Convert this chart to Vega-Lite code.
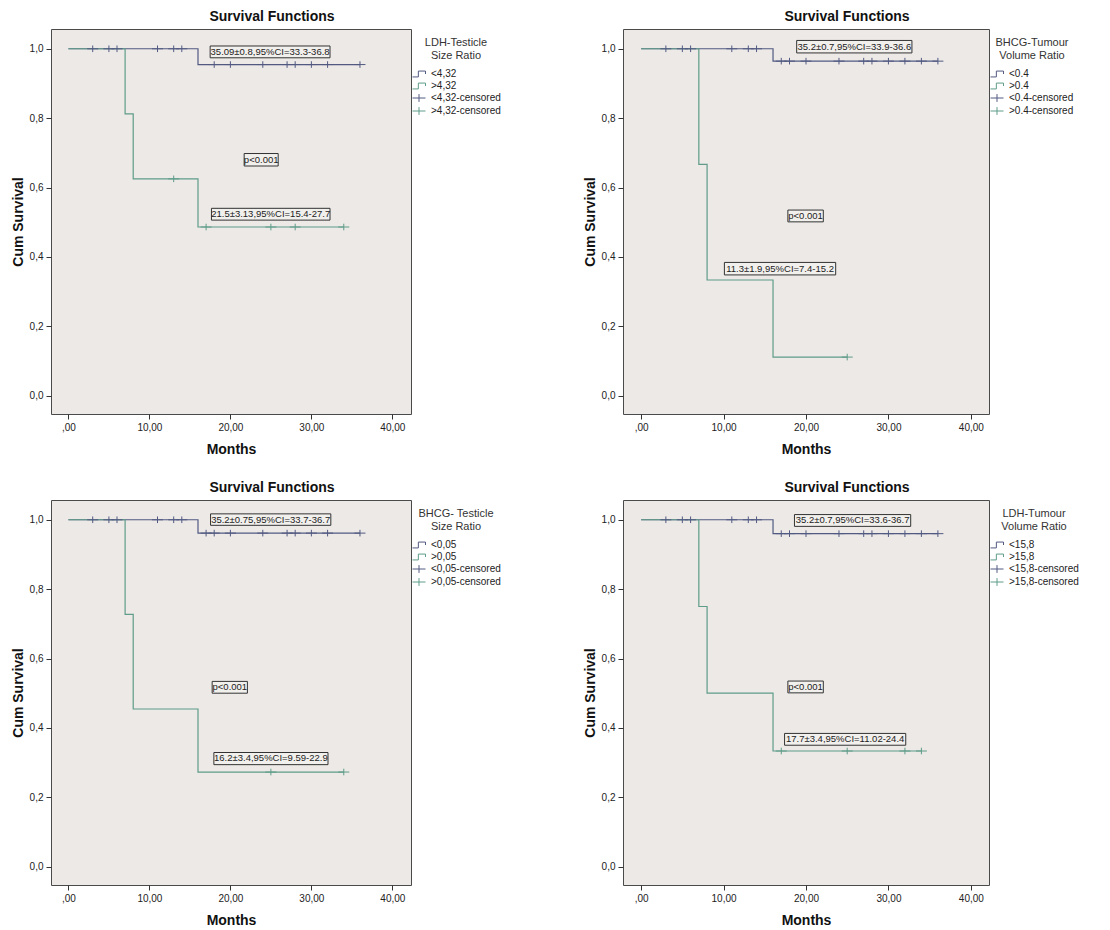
{
  "$schema": "https://vega.github.io/schema/vega-lite/v6.json",
  "background": "white",
  "padding": {"left": 10, "top": 9, "right": 5, "bottom": 5},
  "config": {
    "font": "Liberation Sans",
    "view": {"fill": "#ece9e6", "stroke": "#4a4a4a", "strokeWidth": 1},
    "axis": {"grid": false, "domain": false, "tickColor": "#333", "tickSize": 5, "labelFontSize": 10, "labelColor": "#222", "labelPadding": 3, "titleFontSize": 14, "titleFontWeight": "bold", "titleColor": "#111"},
    "axisX": {"tickCount": 5, "labelExpr": "datum.value == 0 ? ',00' : replace(format(datum.value, '.2f'), '.', ',')", "titlePadding": 10},
    "axisY": {"tickCount": 6, "labelExpr": "replace(format(datum.value, '.1f'), '.', ',')", "titlePadding": 4},
    "title": {"fontSize": 14, "fontWeight": "bold", "color": "#111", "anchor": "middle", "frame": "group", "dx": 41, "offset": 5},
    "legend": {"orient": "right", "offset": -7, "padding": 8, "titleFontSize": 11, "titleFontWeight": "normal", "titleColor": "#333", "titleAlign": "center", "titleAnchor": "middle", "labelFontSize": 10, "labelColor": "#222", "symbolSize": 169, "symbolStrokeWidth": 1, "rowPadding": 0, "titlePadding": 6, "labelOffset": 5, "titleLineHeight": 13}
  },
  "datasets": {
    "p1c": [
      {"month": 0, "surv": 1, "grp": "<4,32"}, {"month": 16, "surv": 0.9545, "grp": "<4,32"}, {"month": 36, "surv": 0.9545, "grp": "<4,32"},
      {"month": 0, "surv": 1, "grp": ">4,32"}, {"month": 7, "surv": 0.8125, "grp": ">4,32"}, {"month": 8, "surv": 0.625, "grp": ">4,32"}, {"month": 16, "surv": 0.4861, "grp": ">4,32"}, {"month": 34, "surv": 0.4861, "grp": ">4,32"}
    ],
    "p1s": [
      {"month": 3, "surv": 1, "grp": "<4,32-censored"}, {"month": 5, "surv": 1, "grp": "<4,32-censored"}, {"month": 6, "surv": 1, "grp": "<4,32-censored"}, {"month": 11, "surv": 1, "grp": "<4,32-censored"}, {"month": 13, "surv": 1, "grp": "<4,32-censored"}, {"month": 14, "surv": 1, "grp": "<4,32-censored"},
      {"month": 18, "surv": 0.9545, "grp": "<4,32-censored"}, {"month": 20, "surv": 0.9545, "grp": "<4,32-censored"}, {"month": 24, "surv": 0.9545, "grp": "<4,32-censored"}, {"month": 27, "surv": 0.9545, "grp": "<4,32-censored"}, {"month": 28, "surv": 0.9545, "grp": "<4,32-censored"}, {"month": 30, "surv": 0.9545, "grp": "<4,32-censored"}, {"month": 32, "surv": 0.9545, "grp": "<4,32-censored"}, {"month": 36, "surv": 0.9545, "grp": "<4,32-censored"},
      {"month": 13, "surv": 0.625, "grp": ">4,32-censored"}, {"month": 17, "surv": 0.4861, "grp": ">4,32-censored"}, {"month": 25, "surv": 0.4861, "grp": ">4,32-censored"}, {"month": 28, "surv": 0.4861, "grp": ">4,32-censored"}, {"month": 34, "surv": 0.4861, "grp": ">4,32-censored"}
    ],
    "p1n": [
      {"label": "35.09±0.8,95%CI=33.3-36.8", "month": 17.5, "month2": 32.3, "surv": 1.008, "surv2": 0.974, "cx": 24.9, "cy": 0.991},
      {"label": "p<0.001", "month": 21.7, "month2": 25.9, "surv": 0.698, "surv2": 0.662, "cx": 23.8, "cy": 0.68},
      {"label": "21.5±3.13,95%CI=15.4-27.7", "month": 17.66, "month2": 32.3, "surv": 0.54, "surv2": 0.506, "cx": 24.98, "cy": 0.523}
    ],
    "p2c": [
      {"month": 0, "surv": 1, "grp": "<0.4"}, {"month": 16, "surv": 0.9643, "grp": "<0.4"}, {"month": 36, "surv": 0.9643, "grp": "<0.4"},
      {"month": 0, "surv": 1, "grp": ">0.4"}, {"month": 7, "surv": 0.6667, "grp": ">0.4"}, {"month": 8, "surv": 0.3333, "grp": ">0.4"}, {"month": 16, "surv": 0.1111, "grp": ">0.4"}, {"month": 25, "surv": 0.1111, "grp": ">0.4"}
    ],
    "p2s": [
      {"month": 3, "surv": 1, "grp": "<0.4-censored"}, {"month": 5, "surv": 1, "grp": "<0.4-censored"}, {"month": 6, "surv": 1, "grp": "<0.4-censored"}, {"month": 11, "surv": 1, "grp": "<0.4-censored"}, {"month": 13, "surv": 1, "grp": "<0.4-censored"}, {"month": 14, "surv": 1, "grp": "<0.4-censored"},
      {"month": 17, "surv": 0.9643, "grp": "<0.4-censored"}, {"month": 18, "surv": 0.9643, "grp": "<0.4-censored"}, {"month": 20, "surv": 0.9643, "grp": "<0.4-censored"}, {"month": 24, "surv": 0.9643, "grp": "<0.4-censored"}, {"month": 27, "surv": 0.9643, "grp": "<0.4-censored"}, {"month": 28, "surv": 0.9643, "grp": "<0.4-censored"}, {"month": 30, "surv": 0.9643, "grp": "<0.4-censored"}, {"month": 32, "surv": 0.9643, "grp": "<0.4-censored"}, {"month": 34, "surv": 0.9643, "grp": "<0.4-censored"}, {"month": 36, "surv": 0.9643, "grp": "<0.4-censored"},
      {"month": 25, "surv": 0.1111, "grp": ">0.4-censored"}
    ],
    "p2n": [
      {"label": "35.2±0.7,95%CI=33.9-36.6", "month": 18.87, "month2": 32.85, "surv": 1.024, "surv2": 0.988, "cx": 25.86, "cy": 1.006},
      {"label": "p<0.001", "month": 17.8, "month2": 22.1, "surv": 0.535, "surv2": 0.501, "cx": 19.95, "cy": 0.518},
      {"label": "11.3±1.9,95%CI=7.4-15.2", "month": 10.1, "month2": 23.6, "surv": 0.384, "surv2": 0.348, "cx": 16.85, "cy": 0.366}
    ],
    "p3c": [
      {"month": 0, "surv": 1, "grp": "<0,05"}, {"month": 16, "surv": 0.9615, "grp": "<0,05"}, {"month": 36, "surv": 0.9615, "grp": "<0,05"},
      {"month": 0, "surv": 1, "grp": ">0,05"}, {"month": 7, "surv": 0.7273, "grp": ">0,05"}, {"month": 8, "surv": 0.4545, "grp": ">0,05"}, {"month": 16, "surv": 0.2727, "grp": ">0,05"}, {"month": 34, "surv": 0.2727, "grp": ">0,05"}
    ],
    "p3s": [
      {"month": 3, "surv": 1, "grp": "<0,05-censored"}, {"month": 5, "surv": 1, "grp": "<0,05-censored"}, {"month": 6, "surv": 1, "grp": "<0,05-censored"}, {"month": 11, "surv": 1, "grp": "<0,05-censored"}, {"month": 13, "surv": 1, "grp": "<0,05-censored"}, {"month": 14, "surv": 1, "grp": "<0,05-censored"},
      {"month": 17, "surv": 0.9615, "grp": "<0,05-censored"}, {"month": 18, "surv": 0.9615, "grp": "<0,05-censored"}, {"month": 20, "surv": 0.9615, "grp": "<0,05-censored"}, {"month": 24, "surv": 0.9615, "grp": "<0,05-censored"}, {"month": 27, "surv": 0.9615, "grp": "<0,05-censored"}, {"month": 28, "surv": 0.9615, "grp": "<0,05-censored"}, {"month": 30, "surv": 0.9615, "grp": "<0,05-censored"}, {"month": 32, "surv": 0.9615, "grp": "<0,05-censored"}, {"month": 36, "surv": 0.9615, "grp": "<0,05-censored"},
      {"month": 25, "surv": 0.2727, "grp": ">0,05-censored"}, {"month": 34, "surv": 0.2727, "grp": ">0,05-censored"}
    ],
    "p3n": [
      {"label": "35.2±0.75,95%CI=33.7-36.7", "month": 17.55, "month2": 32.4, "surv": 1.017, "surv2": 0.984, "cx": 24.97, "cy": 1.0},
      {"label": "p<0.001", "month": 17.75, "month2": 22.1, "surv": 0.534, "surv2": 0.5, "cx": 19.93, "cy": 0.517},
      {"label": "16.2±3.4,95%CI=9.59-22.9", "month": 17.96, "month2": 32.05, "surv": 0.329, "surv2": 0.294, "cx": 25.0, "cy": 0.312}
    ],
    "p4c": [
      {"month": 0, "surv": 1, "grp": "<15,8"}, {"month": 16, "surv": 0.96, "grp": "<15,8"}, {"month": 36, "surv": 0.96, "grp": "<15,8"},
      {"month": 0, "surv": 1, "grp": ">15,8"}, {"month": 7, "surv": 0.75, "grp": ">15,8"}, {"month": 8, "surv": 0.5, "grp": ">15,8"}, {"month": 16, "surv": 0.3333, "grp": ">15,8"}, {"month": 34, "surv": 0.3333, "grp": ">15,8"}
    ],
    "p4s": [
      {"month": 3, "surv": 1, "grp": "<15,8-censored"}, {"month": 5, "surv": 1, "grp": "<15,8-censored"}, {"month": 6, "surv": 1, "grp": "<15,8-censored"}, {"month": 11, "surv": 1, "grp": "<15,8-censored"}, {"month": 13, "surv": 1, "grp": "<15,8-censored"}, {"month": 14, "surv": 1, "grp": "<15,8-censored"},
      {"month": 17, "surv": 0.96, "grp": "<15,8-censored"}, {"month": 18, "surv": 0.96, "grp": "<15,8-censored"}, {"month": 20, "surv": 0.96, "grp": "<15,8-censored"}, {"month": 24, "surv": 0.96, "grp": "<15,8-censored"}, {"month": 27, "surv": 0.96, "grp": "<15,8-censored"}, {"month": 28, "surv": 0.96, "grp": "<15,8-censored"}, {"month": 30, "surv": 0.96, "grp": "<15,8-censored"}, {"month": 32, "surv": 0.96, "grp": "<15,8-censored"}, {"month": 34, "surv": 0.96, "grp": "<15,8-censored"}, {"month": 36, "surv": 0.96, "grp": "<15,8-censored"},
      {"month": 17, "surv": 0.3333, "grp": ">15,8-censored"}, {"month": 25, "surv": 0.3333, "grp": ">15,8-censored"}, {"month": 32, "surv": 0.3333, "grp": ">15,8-censored"}, {"month": 34, "surv": 0.3333, "grp": ">15,8-censored"}
    ],
    "p4n": [
      {"label": "35.2±0.7,95%CI=33.6-36.7", "month": 18.6, "month2": 32.7, "surv": 1.015, "surv2": 0.981, "cx": 25.65, "cy": 0.998},
      {"label": "p<0.001", "month": 17.8, "month2": 22.1, "surv": 0.535, "surv2": 0.501, "cx": 19.95, "cy": 0.518},
      {"label": "17.7±3.4,95%CI=11.02-24.4", "month": 17.4, "month2": 32.1, "surv": 0.384, "surv2": 0.35, "cx": 24.75, "cy": 0.367}
    ]
  },
  "spacing": 23,
  "resolve": {"scale": {"color": "independent", "shape": "independent"}, "legend": {"color": "independent", "shape": "independent"}},
  "vconcat": [
    {
      "spacing": 72,
      "resolve": {"scale": {"color": "independent", "shape": "independent"}, "legend": {"color": "independent", "shape": "independent"}},
      "hconcat": [
        {
          "width": 360, "height": 385,
          "title": "Survival Functions",
          "layer": [
            {"data": {"name": "p1c"}, "transform": [{"filter": {"field": "grp", "equal": "<4,32"}}], "mark": {"type": "line", "interpolate": "step-after", "strokeWidth": 1.2},
             "encoding": {
               "x": {"field": "month", "type": "quantitative", "title": "Months", "scale": {"domain": [-2.15, 42.3], "nice": false, "zero": false}},
               "y": {"field": "surv", "type": "quantitative", "title": "Cum Survival", "scale": {"domain": [-0.053, 1.057], "nice": false, "zero": false}},
               "color": {"field": "grp", "type": "nominal", "scale": {"domain": ["<4,32", ">4,32", "<4,32-censored", ">4,32-censored"], "range": ["#525a82", "#5f9c89", "#525a82", "#5f9c89"]}, "legend": {"title": ["LDH-Testicle", "Size Ratio"]}}}},
            {"data": {"name": "p1c"}, "transform": [{"filter": {"field": "grp", "equal": ">4,32"}}], "mark": {"type": "line", "interpolate": "step-after", "strokeWidth": 1.2},
             "encoding": {
               "x": {"field": "month", "type": "quantitative", "title": "Months"},
               "y": {"field": "surv", "type": "quantitative", "title": "Cum Survival"},
               "color": {"field": "grp", "type": "nominal", "legend": {"title": ["LDH-Testicle", "Size Ratio"]}}}},
            {"data": {"name": "p1s"}, "mark": {"type": "point", "filled": false, "size": 121, "strokeWidth": 1, "opacity": 1},
             "encoding": {
               "x": {"field": "month", "type": "quantitative", "title": "Months"},
               "y": {"field": "surv", "type": "quantitative", "title": "Cum Survival"},
               "color": {"field": "grp", "type": "nominal", "legend": {"title": ["LDH-Testicle", "Size Ratio"]}},
               "shape": {"field": "grp", "type": "nominal", "scale": {"domain": ["<4,32", ">4,32", "<4,32-censored", ">4,32-censored"], "range": ["M-1,0.45L-0.1,0.45L-0.1,-0.45L1,-0.45L1,0", "M-1,0.45L-0.1,0.45L-0.1,-0.45L1,-0.45L1,0", "M-1,0L1,0M0,-0.6L0,0.6", "M-1,0L1,0M0,-0.6L0,0.6"]}, "legend": {"title": ["LDH-Testicle", "Size Ratio"]}}}},
            {"data": {"name": "p1n"}, "mark": {"type": "rect", "fill": "#f2f0ed", "stroke": "#333", "strokeWidth": 1},
             "encoding": {
               "x": {"field": "month", "type": "quantitative", "title": "Months"}, "x2": {"field": "month2"},
               "y": {"field": "surv", "type": "quantitative", "title": "Cum Survival"}, "y2": {"field": "surv2"}}},
            {"data": {"name": "p1n"}, "mark": {"type": "text", "fontSize": 9.5, "color": "#222", "align": "center", "baseline": "middle"},
             "encoding": {
               "x": {"field": "cx", "type": "quantitative", "title": "Months"},
               "y": {"field": "cy", "type": "quantitative", "title": "Cum Survival"},
               "text": {"field": "label"}}}
          ]
        },
        {
          "width": 366, "height": 385,
          "title": "Survival Functions",
          "layer": [
            {"data": {"name": "p2c"}, "transform": [{"filter": {"field": "grp", "equal": "<0.4"}}], "mark": {"type": "line", "interpolate": "step-after", "strokeWidth": 1.2},
             "encoding": {
               "x": {"field": "month", "type": "quantitative", "title": "Months", "scale": {"domain": [-2.2, 42.2], "nice": false, "zero": false}},
               "y": {"field": "surv", "type": "quantitative", "title": "Cum Survival", "scale": {"domain": [-0.053, 1.057], "nice": false, "zero": false}},
               "color": {"field": "grp", "type": "nominal", "scale": {"domain": ["<0.4", ">0.4", "<0.4-censored", ">0.4-censored"], "range": ["#525a82", "#5f9c89", "#525a82", "#5f9c89"]}, "legend": {"title": ["BHCG-Tumour", "Volume Ratio"]}}}},
            {"data": {"name": "p2c"}, "transform": [{"filter": {"field": "grp", "equal": ">0.4"}}], "mark": {"type": "line", "interpolate": "step-after", "strokeWidth": 1.2},
             "encoding": {
               "x": {"field": "month", "type": "quantitative", "title": "Months"},
               "y": {"field": "surv", "type": "quantitative", "title": "Cum Survival"},
               "color": {"field": "grp", "type": "nominal", "legend": {"title": ["BHCG-Tumour", "Volume Ratio"]}}}},
            {"data": {"name": "p2s"}, "mark": {"type": "point", "filled": false, "size": 121, "strokeWidth": 1, "opacity": 1},
             "encoding": {
               "x": {"field": "month", "type": "quantitative", "title": "Months"},
               "y": {"field": "surv", "type": "quantitative", "title": "Cum Survival"},
               "color": {"field": "grp", "type": "nominal", "legend": {"title": ["BHCG-Tumour", "Volume Ratio"]}},
               "shape": {"field": "grp", "type": "nominal", "scale": {"domain": ["<0.4", ">0.4", "<0.4-censored", ">0.4-censored"], "range": ["M-1,0.45L-0.1,0.45L-0.1,-0.45L1,-0.45L1,0", "M-1,0.45L-0.1,0.45L-0.1,-0.45L1,-0.45L1,0", "M-1,0L1,0M0,-0.6L0,0.6", "M-1,0L1,0M0,-0.6L0,0.6"]}, "legend": {"title": ["BHCG-Tumour", "Volume Ratio"]}}}},
            {"data": {"name": "p2n"}, "mark": {"type": "rect", "fill": "#f2f0ed", "stroke": "#333", "strokeWidth": 1},
             "encoding": {
               "x": {"field": "month", "type": "quantitative", "title": "Months"}, "x2": {"field": "month2"},
               "y": {"field": "surv", "type": "quantitative", "title": "Cum Survival"}, "y2": {"field": "surv2"}}},
            {"data": {"name": "p2n"}, "mark": {"type": "text", "fontSize": 9.5, "color": "#222", "align": "center", "baseline": "middle"},
             "encoding": {
               "x": {"field": "cx", "type": "quantitative", "title": "Months"},
               "y": {"field": "cy", "type": "quantitative", "title": "Cum Survival"},
               "text": {"field": "label"}}}
          ]
        }
      ]
    },
    {
      "spacing": 72,
      "resolve": {"scale": {"color": "independent", "shape": "independent"}, "legend": {"color": "independent", "shape": "independent"}},
      "hconcat": [
        {
          "width": 360, "height": 385,
          "title": "Survival Functions",
          "layer": [
            {"data": {"name": "p3c"}, "transform": [{"filter": {"field": "grp", "equal": "<0,05"}}], "mark": {"type": "line", "interpolate": "step-after", "strokeWidth": 1.2},
             "encoding": {
               "x": {"field": "month", "type": "quantitative", "title": "Months", "scale": {"domain": [-2.15, 42.3], "nice": false, "zero": false}},
               "y": {"field": "surv", "type": "quantitative", "title": "Cum Survival", "scale": {"domain": [-0.053, 1.057], "nice": false, "zero": false}},
               "color": {"field": "grp", "type": "nominal", "scale": {"domain": ["<0,05", ">0,05", "<0,05-censored", ">0,05-censored"], "range": ["#525a82", "#5f9c89", "#525a82", "#5f9c89"]}, "legend": {"title": ["BHCG- Testicle", "Size Ratio"]}}}},
            {"data": {"name": "p3c"}, "transform": [{"filter": {"field": "grp", "equal": ">0,05"}}], "mark": {"type": "line", "interpolate": "step-after", "strokeWidth": 1.2},
             "encoding": {
               "x": {"field": "month", "type": "quantitative", "title": "Months"},
               "y": {"field": "surv", "type": "quantitative", "title": "Cum Survival"},
               "color": {"field": "grp", "type": "nominal", "legend": {"title": ["BHCG- Testicle", "Size Ratio"]}}}},
            {"data": {"name": "p3s"}, "mark": {"type": "point", "filled": false, "size": 121, "strokeWidth": 1, "opacity": 1},
             "encoding": {
               "x": {"field": "month", "type": "quantitative", "title": "Months"},
               "y": {"field": "surv", "type": "quantitative", "title": "Cum Survival"},
               "color": {"field": "grp", "type": "nominal", "legend": {"title": ["BHCG- Testicle", "Size Ratio"]}},
               "shape": {"field": "grp", "type": "nominal", "scale": {"domain": ["<0,05", ">0,05", "<0,05-censored", ">0,05-censored"], "range": ["M-1,0.45L-0.1,0.45L-0.1,-0.45L1,-0.45L1,0", "M-1,0.45L-0.1,0.45L-0.1,-0.45L1,-0.45L1,0", "M-1,0L1,0M0,-0.6L0,0.6", "M-1,0L1,0M0,-0.6L0,0.6"]}, "legend": {"title": ["BHCG- Testicle", "Size Ratio"]}}}},
            {"data": {"name": "p3n"}, "mark": {"type": "rect", "fill": "#f2f0ed", "stroke": "#333", "strokeWidth": 1},
             "encoding": {
               "x": {"field": "month", "type": "quantitative", "title": "Months"}, "x2": {"field": "month2"},
               "y": {"field": "surv", "type": "quantitative", "title": "Cum Survival"}, "y2": {"field": "surv2"}}},
            {"data": {"name": "p3n"}, "mark": {"type": "text", "fontSize": 9.5, "color": "#222", "align": "center", "baseline": "middle"},
             "encoding": {
               "x": {"field": "cx", "type": "quantitative", "title": "Months"},
               "y": {"field": "cy", "type": "quantitative", "title": "Cum Survival"},
               "text": {"field": "label"}}}
          ]
        },
        {
          "width": 366, "height": 385,
          "title": "Survival Functions",
          "layer": [
            {"data": {"name": "p4c"}, "transform": [{"filter": {"field": "grp", "equal": "<15,8"}}], "mark": {"type": "line", "interpolate": "step-after", "strokeWidth": 1.2},
             "encoding": {
               "x": {"field": "month", "type": "quantitative", "title": "Months", "scale": {"domain": [-2.2, 42.2], "nice": false, "zero": false}},
               "y": {"field": "surv", "type": "quantitative", "title": "Cum Survival", "scale": {"domain": [-0.053, 1.057], "nice": false, "zero": false}},
               "color": {"field": "grp", "type": "nominal", "scale": {"domain": ["<15,8", ">15,8", "<15,8-censored", ">15,8-censored"], "range": ["#525a82", "#5f9c89", "#525a82", "#5f9c89"]}, "legend": {"title": ["LDH-Tumour", "Volume Ratio"]}}}},
            {"data": {"name": "p4c"}, "transform": [{"filter": {"field": "grp", "equal": ">15,8"}}], "mark": {"type": "line", "interpolate": "step-after", "strokeWidth": 1.2},
             "encoding": {
               "x": {"field": "month", "type": "quantitative", "title": "Months"},
               "y": {"field": "surv", "type": "quantitative", "title": "Cum Survival"},
               "color": {"field": "grp", "type": "nominal", "legend": {"title": ["LDH-Tumour", "Volume Ratio"]}}}},
            {"data": {"name": "p4s"}, "mark": {"type": "point", "filled": false, "size": 121, "strokeWidth": 1, "opacity": 1},
             "encoding": {
               "x": {"field": "month", "type": "quantitative", "title": "Months"},
               "y": {"field": "surv", "type": "quantitative", "title": "Cum Survival"},
               "color": {"field": "grp", "type": "nominal", "legend": {"title": ["LDH-Tumour", "Volume Ratio"]}},
               "shape": {"field": "grp", "type": "nominal", "scale": {"domain": ["<15,8", ">15,8", "<15,8-censored", ">15,8-censored"], "range": ["M-1,0.45L-0.1,0.45L-0.1,-0.45L1,-0.45L1,0", "M-1,0.45L-0.1,0.45L-0.1,-0.45L1,-0.45L1,0", "M-1,0L1,0M0,-0.6L0,0.6", "M-1,0L1,0M0,-0.6L0,0.6"]}, "legend": {"title": ["LDH-Tumour", "Volume Ratio"]}}}},
            {"data": {"name": "p4n"}, "mark": {"type": "rect", "fill": "#f2f0ed", "stroke": "#333", "strokeWidth": 1},
             "encoding": {
               "x": {"field": "month", "type": "quantitative", "title": "Months"}, "x2": {"field": "month2"},
               "y": {"field": "surv", "type": "quantitative", "title": "Cum Survival"}, "y2": {"field": "surv2"}}},
            {"data": {"name": "p4n"}, "mark": {"type": "text", "fontSize": 9.5, "color": "#222", "align": "center", "baseline": "middle"},
             "encoding": {
               "x": {"field": "cx", "type": "quantitative", "title": "Months"},
               "y": {"field": "cy", "type": "quantitative", "title": "Cum Survival"},
               "text": {"field": "label"}}}
          ]
        }
      ]
    }
  ]
}
